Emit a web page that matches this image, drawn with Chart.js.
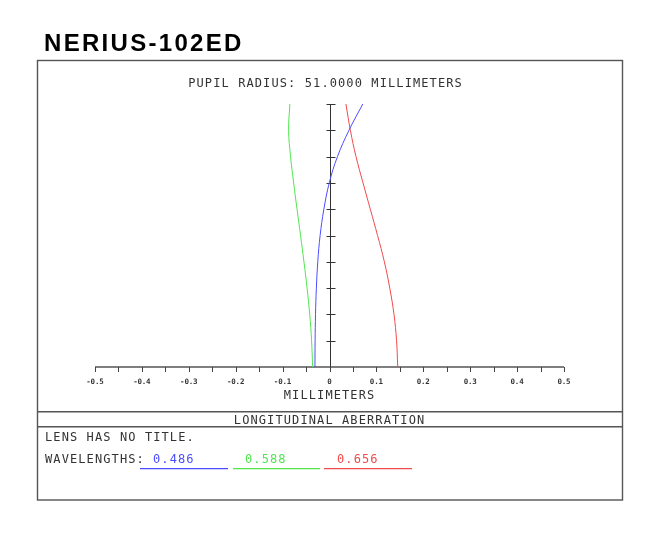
<!DOCTYPE html>
<html>
<head>
<meta charset="utf-8">
<script src="https://cdn.jsdelivr.net/npm/chart.js@4.4.1/dist/chart.umd.min.js"></script>
<style>
  html, body { margin: 0; padding: 0; background: #ffffff; }
  #wrap { position: relative; width: 664px; height: 536px; }
  canvas { display: block; }
</style>
</head>
<body>
<div id="wrap"><canvas id="c" width="664" height="536"></canvas></div>
<script>
// ---- data ----
const chartTitle = "NERIUS-102ED";
const plotHeading = "PUPIL RADIUS: 51.0000 MILLIMETERS";
const xAxisTitle = "MILLIMETERS";
const footerTitle = "LONGITUDINAL ABERRATION";
const lensNote = "LENS HAS NO TITLE.";
const wavelengthLabels = ["0.486", "0.588", "0.656"];
const xTickValues = [-0.5, -0.4, -0.3, -0.2, -0.1, 0, 0.1, 0.2, 0.3, 0.4, 0.5];
const xTickLabels = ["-0.5", "-0.4", "-0.3", "-0.2", "-0.1", "0", "0.1", "0.2", "0.3", "0.4", "0.5"];
const xMinorTicks = [-0.5,-0.45,-0.4,-0.35,-0.3,-0.25,-0.2,-0.15,-0.1,-0.05,0,0.05,0.1,0.15,0.2,0.25,0.3,0.35,0.4,0.45,0.5];
const yTickValues = [0.1, 0.2, 0.3, 0.4, 0.5, 0.6, 0.7, 0.8, 0.9, 1.0];
const pupil = [0, 0.1, 0.2, 0.3, 0.4, 0.5, 0.6, 0.7, 0.8, 0.9, 1.0];
const blue486 = [-0.031, -0.0307, -0.0298, -0.0280, -0.0250, -0.0200, -0.0120, -0.0005, 0.0170, 0.0415, 0.0710];
const green588 = [-0.036, -0.0382, -0.0422, -0.0478, -0.0545, -0.0617, -0.0692, -0.0765, -0.0830, -0.0872, -0.0845];
const red656 = [0.1455, 0.1430, 0.1375, 0.1285, 0.1170, 0.1025, 0.0870, 0.0715, 0.0565, 0.0445, 0.0350];

const colors = ["#4d4dff", "#4fe64f", "#f04a4a"];
const series = [blue486, green588, red656];

const datasets = series.map((vals, i) => ({
  label: wavelengthLabels[i],
  data: vals.map((v, k) => ({ x: v, y: pupil[k] })),
  borderColor: colors[i],
  borderWidth: 1,
  pointRadius: 0,
  showLine: true,
  fill: false,
  tension: 0.4
}));

const mono = '"DejaVu Sans Mono", "Liberation Mono", monospace';

function txt(ctx, s, x, y, font, color, align, spacing) {
  ctx.save();
  ctx.font = font;
  ctx.fillStyle = color;
  ctx.textBaseline = "alphabetic";
  if (spacing !== undefined) ctx.letterSpacing = spacing + "px";
  let w = ctx.measureText(s).width;
  if (spacing) w -= spacing;
  let sx = x;
  if (align === "center") sx = x - w / 2;
  else if (align === "right") sx = x - w;
  ctx.textAlign = "left";
  ctx.fillText(s, sx, y);
  ctx.restore();
}

const decor = {
  id: "decor",
  beforeDatasetsDraw(chart) {
    const ctx = chart.ctx;
    const xs = chart.scales.x, ys = chart.scales.y;
    const y0 = ys.getPixelForValue(0);
    const y1 = ys.getPixelForValue(1);
    const x0 = xs.getPixelForValue(0);
    ctx.save();
    ctx.strokeStyle = "#555555";
    ctx.lineWidth = 1.5;
    ctx.beginPath();
    ctx.moveTo(xs.getPixelForValue(-0.5), y0);
    ctx.lineTo(xs.getPixelForValue(0.5), y0);
    ctx.stroke();
    ctx.lineWidth = 1;
    ctx.strokeStyle = "#444444";
    xMinorTicks.forEach(v => {
      const px = Math.round(xs.getPixelForValue(v)) + 0.5;
      ctx.beginPath();
      ctx.moveTo(px, y0);
      ctx.lineTo(px, y0 + 5);
      ctx.stroke();
    });
    ctx.strokeStyle = "#333333";
    const ax = Math.round(x0) + 0.5;
    ctx.beginPath();
    ctx.moveTo(ax, y0);
    ctx.lineTo(ax, y1);
    ctx.stroke();
    yTickValues.forEach(v => {
      const py = Math.round(ys.getPixelForValue(v)) + 0.5;
      ctx.beginPath();
      ctx.moveTo(ax - 4, py);
      ctx.lineTo(ax + 5, py);
      ctx.stroke();
    });
    ctx.restore();
    xTickValues.forEach((v, i) => {
      txt(ctx, xTickLabels[i], xs.getPixelForValue(v), y0 + 17, "bold 7.5px " + mono, "#333333", "center", -0.2);
    });
  },
  afterDraw(chart) {
    const ctx = chart.ctx;
    ctx.save();
    ctx.strokeStyle = "#555555";
    ctx.lineWidth = 1.4;
    ctx.strokeRect(37.5, 60.5, 585, 439.5);
    ctx.beginPath();
    ctx.moveTo(37.5, 411.7); ctx.lineTo(622.5, 411.7);
    ctx.moveTo(37.5, 426.7); ctx.lineTo(622.5, 426.7);
    ctx.stroke();
    ctx.lineWidth = 1.3;
    const segs = [[140, 228], [233, 320], [324, 412]];
    segs.forEach((s, i) => {
      ctx.strokeStyle = colors[i];
      ctx.beginPath();
      ctx.moveTo(s[0], 468.7); ctx.lineTo(s[1], 468.7);
      ctx.stroke();
    });
    ctx.restore();
    txt(ctx, chartTitle, 44, 51, 'bold 24px "Liberation Sans", Arial, sans-serif', "#000000", "left", 2.3);
    const f = "12px " + mono;
    const sp = 1.1;
    txt(ctx, plotHeading, 325, 87, f, "#333333", "center", sp);
    txt(ctx, xAxisTitle, 329, 399, f, "#333333", "center", sp);
    txt(ctx, footerTitle, 329, 424, f, "#333333", "center", sp);
    txt(ctx, lensNote, 45, 441, f, "#333333", "left", sp);
    txt(ctx, "WAVELENGTHS:", 45, 462.5, f, "#333333", "left", sp);
    const lx = [153, 245, 337];
    wavelengthLabels.forEach((l, i) => txt(ctx, l, lx[i], 462.5, f, colors[i], "left", sp));
  }
};

new Chart(document.getElementById("c"), {
  type: "scatter",
  data: { datasets },
  options: {
    responsive: false,
    devicePixelRatio: 1,
    animation: false,
    events: [],
    layout: { padding: { left: 95, right: 100, top: 104, bottom: 169 } },
    scales: {
      x: { type: "linear", min: -0.5, max: 0.5, display: false },
      y: { type: "linear", min: 0, max: 1, display: false }
    },
    plugins: { legend: { display: false }, tooltip: { enabled: false }, title: { display: false } },
    elements: { line: { capBezierPoints: true } }
  },
  plugins: [decor]
});
</script>
</body>
</html>
